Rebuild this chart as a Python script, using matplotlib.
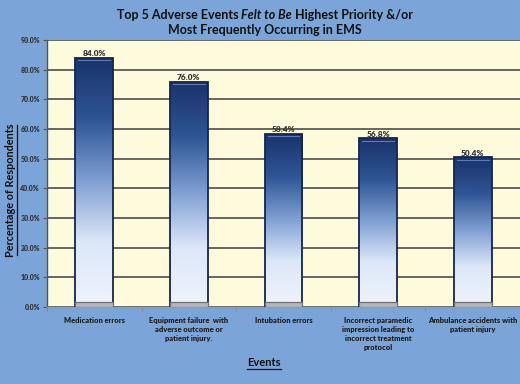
import matplotlib
matplotlib.use("Agg")
import matplotlib.pyplot as plt
import numpy as np
from matplotlib.colors import LinearSegmentedColormap

categories = ["Medication errors",
              "Equipment failure  with\nadverse outcome or\npatient injury.",
              "Intubation errors",
              "Incorrect paramedic\nimpression leading to\nincorrect treatment\nprotocol",
              "Ambulance accidents with\npatient injury"]
values = [84.0, 76.0, 58.4, 56.8, 50.4]
yticks = [0, 10, 20, 30, 40, 50, 60, 70, 80, 90]

plt.rcParams['font.family'] = ['Lato', 'DejaVu Sans']

bg = '#7BA5D8'
fig = plt.figure(figsize=(5.2, 3.84), dpi=100, facecolor=bg)
ax = fig.add_axes([47/520, 77/384, 473/520, 267/384])
ax.set_facecolor('#FEFADC')

x = np.arange(len(values))
bars = ax.bar(x, values, width=0.4, color='none', edgecolor='#14254d', linewidth=1.3, zorder=3)
ax.set_xlim(-0.5, len(values) - 0.5)
ax.set_ylim(0, 90)

grad = np.linspace(0, 1, 256).reshape(-1, 1)
cmap = LinearSegmentedColormap.from_list('g', ['#1A336B', '#2F5595', '#7F9FD3', '#DCE7F8', '#EEF3FC'])
for b in bars:
    x0, w, h = b.get_x(), b.get_width(), b.get_height()
    im = ax.imshow(grad, extent=[x0, x0 + w, 1.5, h], aspect='auto', cmap=cmap,
                   origin='upper', zorder=2)
    im.set_clip_path(b)
    ax.plot([x0 + w * 0.08, x0 + w * 0.92], [h - 0.9, h - 0.9], color='#5b7cb8', lw=0.8, zorder=4)
    ax.bar(x0 + w / 2, 1.6, width=w, bottom=0, color='#B4B6BE', edgecolor='#707078', linewidth=0.9, zorder=4)
    ax.text(x0 + w / 2, h + 0.3, f"{h:.1f}%", ha='center', va='bottom',
            fontsize=6, fontweight='heavy', color='#333333', zorder=5)

ax.set_yticks(yticks)
ax.set_yticklabels([f"{t:.1f}%" for t in yticks], fontsize=5, fontweight='heavy', color='#333333')
ax.yaxis.grid(True, color='#5a5a5a', linewidth=1.3, zorder=1)
ax.set_axisbelow(True)
ax.tick_params(axis='y', length=3, width=0.8, color='#555555', pad=2)

ax.set_xticks(x)
ax.set_xticklabels(categories, fontsize=5.4, fontweight='heavy', color='#222222', linespacing=1.35)
ax.set_xticks(np.arange(-0.5, len(values), 1), minor=True)
ax.tick_params(axis='x', which='major', length=0, pad=7)
ax.tick_params(axis='x', which='minor', length=3, width=0.8, color='#8a8a8a')

for s in ['top', 'right']:
    ax.spines[s].set_visible(False)
ax.spines['left'].set_color('#555555')
ax.spines['left'].set_linewidth(1.0)
ax.spines['bottom'].set_color('#9a9a9a')
ax.spines['bottom'].set_linewidth(1.0)

fig.canvas.draw()
r = fig.canvas.get_renderer()
inv = fig.transFigure.inverted()

yl = fig.text(11/520, 1 - 190/384, "Percentage of Respondents", rotation=90, ha='center', va='center',
              fontsize=7.8, fontweight='bold', color='#111111')
ev = fig.text(264/520, 1 - 362/384, "Events", ha='center', va='center', fontsize=8, fontweight='bold', color='#111111')
fig.canvas.draw()
bb = yl.get_window_extent(renderer=r)
(x0f, y0f), (x1f, y1f) = inv.transform([[bb.x0, bb.y0], [bb.x1, bb.y1]])
fig.add_artist(plt.Line2D([x1f + 0.001, x1f + 0.001], [y0f + 0.004, y1f - 0.004], color='#111111', lw=0.9, transform=fig.transFigure))
bb = ev.get_window_extent(renderer=r)
(x0f, y0f), (x1f, y1f) = inv.transform([[bb.x0, bb.y0], [bb.x1, bb.y1]])
fig.add_artist(plt.Line2D([x0f, x1f], [y0f - 0.003, y0f - 0.003], color='#111111', lw=0.9, transform=fig.transFigure))

parts = [("Top 5 Adverse Events ", 'normal'), ("Felt to Be", 'italic'), (" Highest Priority &/or", 'normal')]
ts = []
for s, st in parts:
    ts.append(fig.text(0, 1 - 15/384, s, fontsize=9, fontweight='bold', style=st, va='center', ha='left', color='#111111'))
fig.canvas.draw()
ws = [t.get_window_extent(renderer=r).width for t in ts]
total = sum(ws)
cur = 265 / 520 * fig.bbox.width - total / 2
for t, w in zip(ts, ws):
    t.set_x(cur / fig.bbox.width)
    cur += w
fig.text(265/520, 1 - 30/384, "Most Frequently Occurring in EMS", fontsize=9, fontweight='bold', ha='center', va='center', color='#111111')

fig.savefig("out.png", dpi=100, facecolor=bg)
